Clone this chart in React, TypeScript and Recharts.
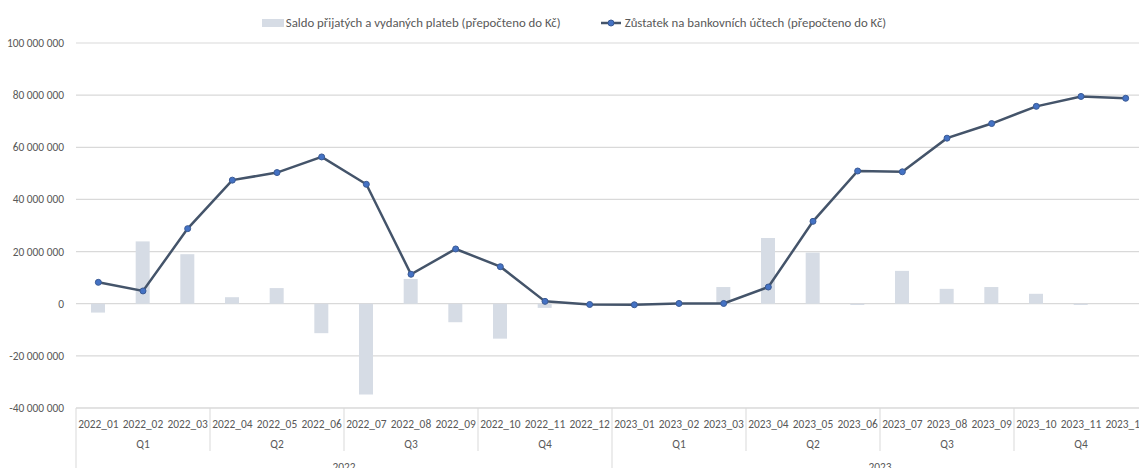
import { ComposedChart, Bar, Line, XAxis, YAxis, CartesianGrid, Legend } from 'recharts';

// months on the category axis (monthly data 2022-2023)
const months = [
  '2022_01', '2022_02', '2022_03', '2022_04', '2022_05', '2022_06',
  '2022_07', '2022_08', '2022_09', '2022_10', '2022_11', '2022_12',
  '2023_01', '2023_02', '2023_03', '2023_04', '2023_05', '2023_06',
  '2023_07', '2023_08', '2023_09', '2023_10', '2023_11', '2023_12'
];
const quarters = ['Q1', 'Q2', 'Q3', 'Q4'];
const years = ['2022', '2023'];

// saldo of received and paid payments (CZK)
const saldo = [
  -3400000, 23900000, 19000000, 2500000, 6000000, -11300000,
  -34800000, 9500000, -7100000, -13400000, -1600000, 0,
  0, 0, 6400000, 25200000, 19600000, -500000,
  12600000, 5700000, 6400000, 3800000, -500000, 0
];
// balance on bank accounts (CZK)
const zustatek = [
  8200000, 4900000, 28800000, 47400000, 50300000, 56300000,
  45800000, 11300000, 21000000, 14200000, 900000, -300000,
  -400000, 100000, 100000, 6400000, 31600000, 50900000,
  50600000, 63500000, 69100000, 75700000, 79500000, 78800000
];
const yTicks = [-40000000, -20000000, 0, 20000000, 40000000, 60000000, 80000000, 100000000];

const SALDO_NAME = 'Saldo přijatých a vydaných plateb (přepočteno do Kč)';
const ZUSTATEK_NAME = 'Zůstatek na bankovních účtech (přepočteno do Kč)';

const data = months.map((m, i) => ({ month: m, saldo: saldo[i], zustatek: zustatek[i] }));

const FONT = "Carlito, 'Liberation Sans Narrow', 'Liberation Sans', sans-serif";
const TEXT = '#595959';
const LINE_GRAY = '#d9d9d9';
const BAR_COLOR = '#d6dce5';
const LINE_COLOR = '#44546a';
const AXIS_FS = 11.4;

const fmt = (v: number) => String(v).replace(/\B(?=(\d{3})+(?!\d))/g, ' ');

// three-level category axis: month / quarter / year, Excel style
const MultiTick = (props: any) => {
  const { x, y, index, payload } = props;
  const half = payload?.offset ?? 22.3;
  const inYear = index % 12;
  return (
    <g>
      <text x={x} y={y + 20} textAnchor="middle" fill={TEXT} fontSize={AXIS_FS} fontFamily={FONT}>
        {payload.value}
      </text>
      {index % 3 === 0 && (
        <line x1={x - half} x2={x - half} y1={y} y2={inYear === 0 ? y + 70 : y + 43} stroke={LINE_GRAY} />
      )}
      {index % 3 === 1 && (
        <text x={x} y={y + 40} textAnchor="middle" fill={TEXT} fontSize={AXIS_FS} fontFamily={FONT}>
          {quarters[Math.floor(inYear / 3)]}
        </text>
      )}
      {inYear === 5 && (
        <text x={x + half} y={y + 63} textAnchor="middle" fill={TEXT} fontSize={AXIS_FS} fontFamily={FONT}>
          {years[Math.floor(index / 12)]}
        </text>
      )}
    </g>
  );
};

const ValueTick = (props: any) => {
  const { x, y, payload } = props;
  return (
    <text x={x} y={y + 4} textAnchor="end" fill={TEXT} fontSize={AXIS_FS} fontFamily={FONT}>
      {fmt(payload.value)}
    </text>
  );
};

const LegendContent = () => (
  <div style={{ display: 'flex', justifyContent: 'center', gap: 40, fontFamily: FONT, fontSize: 12.8, color: TEXT, paddingTop: 2 }}>
    <div style={{ display: 'flex', alignItems: 'center' }}>
      <svg width={24} height={10}>
        <rect x={0} y={1} width={22} height={8} fill={BAR_COLOR} />
      </svg>
      <span>{SALDO_NAME}</span>
    </div>
    <div style={{ display: 'flex', alignItems: 'center' }}>
      <svg width={24} height={10}>
        <line x1={0} x2={20} y1={5} y2={5} stroke={LINE_COLOR} strokeWidth={2.5} />
        <circle cx={10} cy={5} r={3} fill="#4472c4" stroke="#3a5a94" />
      </svg>
      <span>{ZUSTATEK_NAME}</span>
    </div>
  </div>
);

export default function App() {
  return (
    <div style={{ position: 'absolute', left: 0, top: 0, width: 1139, height: 468, overflow: 'hidden', background: '#fff' }}>
      <ComposedChart
        width={1150}
        height={480}
        data={data}
        margin={{ top: 13, right: 2, bottom: 0, left: 0 }}
      >
        <CartesianGrid vertical={false} stroke={LINE_GRAY} strokeWidth={1.2} />
        <XAxis
          dataKey="month"
          interval={0}
          height={72}
          tickLine={false}
          tickSize={0}
          tickMargin={0}
          axisLine={{ stroke: LINE_GRAY }}
          tick={<MultiTick />}
        />
        <YAxis
          width={76}
          domain={[-40000000, 100000000]}
          ticks={yTicks}
          interval={0}
          axisLine={false}
          tickLine={false}
          tickSize={0}
          tickMargin={12}
          tick={<ValueTick />}
        />
        <Legend verticalAlign="top" height={30} content={<LegendContent />} />
        <Bar dataKey="saldo" name={SALDO_NAME} fill={BAR_COLOR} barSize={14} isAnimationActive={false} />
        <Line
          dataKey="zustatek"
          name={ZUSTATEK_NAME}
          stroke={LINE_COLOR}
          strokeWidth={2.5}
          dot={{ r: 3, fill: '#4472c4', stroke: '#3a5a94', strokeWidth: 1 }}
          activeDot={false}
          isAnimationActive={false}
        />
      </ComposedChart>
    </div>
  );
}
